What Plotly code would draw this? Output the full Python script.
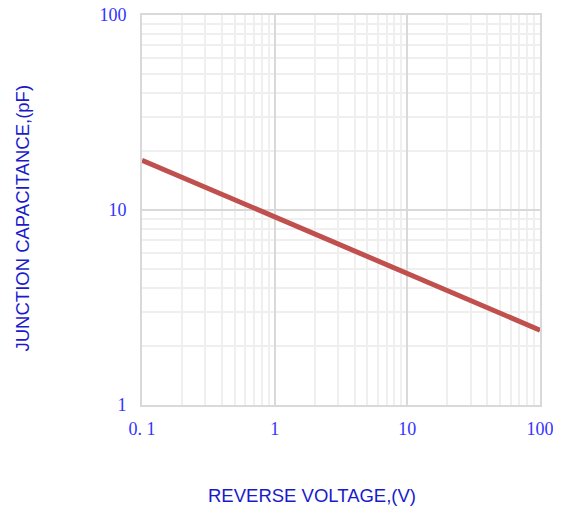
import plotly.graph_objects as go

voltage = [0.1, 1, 10, 100]
capacitance = [18.0, 9.2, 4.72, 2.42]

x_tick_vals = [0.1, 1, 10, 100]
x_tick_text = ["0. 1", "1", "10", "100"]
y_tick_vals = [1, 10, 100]
y_tick_text = ["1", "10", "100"]

W, H = 553, 500
L, T, PW, PH = 134, 7, 398, 390

fig = go.Figure()
fig.add_trace(go.Scatter(
    x=voltage, y=capacitance, mode="lines",
    line=dict(color="#c0504d", width=5),
    showlegend=False,
))

tick_font = dict(family="Liberation Serif, Times New Roman, serif", size=18, color="#3333ff")
title_font = dict(family="Liberation Sans, Arial, sans-serif", size=18.5, color="#1a1acc")

fig.update_xaxes(
    type="log", range=[-1, 2],
    tickvals=x_tick_vals, ticktext=x_tick_text,
    tickfont=tick_font, ticks="", ticklabelstandoff=6, ticklabeloverflow="allow",
    showgrid=True, gridcolor="#d9d9d9", gridwidth=1.5,
    minor=dict(showgrid=True, gridcolor="#efefef", gridwidth=1.5, dtick="D1", ticks=""),
    showline=True, linecolor="#d9d9d9", linewidth=2, mirror=True,
    zeroline=False, automargin=False,
)
fig.update_yaxes(
    type="log", range=[0, 2],
    tickvals=y_tick_vals, ticktext=y_tick_text,
    tickfont=tick_font, ticks="", ticklabelstandoff=10, ticklabeloverflow="allow",
    showgrid=True, gridcolor="#d9d9d9", gridwidth=1.5,
    minor=dict(showgrid=True, gridcolor="#efefef", gridwidth=1.5, dtick="D1", ticks=""),
    showline=True, linecolor="#d9d9d9", linewidth=2, mirror=True,
    zeroline=False, automargin=False,
)

fig.add_annotation(text="REVERSE VOLTAGE,(V)", xref="paper", yref="paper",
                   x=(311 - 141.5) / PW, y=-(495 - 405) / PH, showarrow=False,
                   xanchor="center", yanchor="middle", font=title_font)
fig.add_annotation(text="JUNCTION CAPACITANCE,(pF)", xref="paper", yref="paper",
                   x=-(141.5 - 22) / PW, y=(405 - 218) / PH, showarrow=False,
                   textangle=-90, xanchor="center", yanchor="middle", font=title_font)

fig.update_layout(
    width=W, height=H,
    margin=dict(l=L, r=W - L - PW, t=T, b=H - T - PH, pad=0),
    paper_bgcolor="white", plot_bgcolor="white",
)

fig.write_html("out.html")
